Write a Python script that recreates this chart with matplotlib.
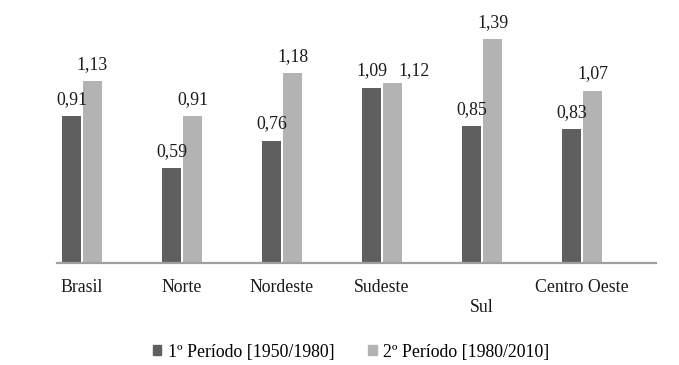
import numpy as np
import matplotlib.pyplot as plt
from matplotlib.patches import Patch
import matplotlib.transforms as mtransforms

plt.rcParams['font.family'] = ['Liberation Serif', 'DejaVu Serif']

regioes = ['Brasil', 'Norte', 'Nordeste', 'Sudeste', 'Sul', 'Centro Oeste']
periodo1 = [0.91, 0.59, 0.76, 1.09, 0.85, 0.83]
periodo2 = [1.13, 0.91, 1.18, 1.12, 1.39, 1.07]
legendas = ['1º Período [1950/1980]', '2º Período [1980/2010]']

cor1 = '#5f5f5f'
cor2 = '#b3b3b3'
fs = 12.8

fig = plt.figure(figsize=(6.79, 3.65), dpi=100)
ax = fig.add_axes([57/679, 1 - 263/365, 599/679, (263 - 21.5)/365])

x = np.arange(len(regioes))
w = 0.19
b1 = ax.bar(x - 0.105, periodo1, w, color=cor1)
b2 = ax.bar(x + 0.105, periodo2, w, color=cor2)

def fmt(v):
    return ('%.2f' % v).replace('.', ',')

px = 72 / 100  # pixels -> pontos
for j, (bars, vals) in enumerate([(b1, periodo1), (b2, periodo2)]):
    for i, (r, v) in enumerate(zip(bars, vals)):
        cx = r.get_x() + r.get_width() / 2
        dx, dy = 0, 6
        # Sudeste: rótulo do 2º período deslocado para não sobrepor
        if j == 1 and regioes[i] == 'Sudeste':
            dx = 22 * px
            dy = 6 - (periodo2[i] - periodo1[i]) * 161 * px
        ax.annotate(fmt(v), (cx, v), xytext=(dx, dy),
                    textcoords='offset points', ha='center', va='bottom',
                    fontsize=fs, color='#1a1a1a')

ax.set_xlim(-0.25, 5.74)
ax.set_ylim(0, 1.5)
ax.set_xticks([])
ax.set_yticks([])
for s in ['top', 'right', 'left']:
    ax.spines[s].set_visible(False)
ax.spines['bottom'].set_color('#a0a0a0')
ax.spines['bottom'].set_linewidth(1.6)

# rótulos das categorias (Sul fica mais abaixo no original)
for i, nome in enumerate(regioes):
    dy = -44 if nome == 'Sul' else -24
    tr = mtransforms.offset_copy(ax.transData, fig=fig, x=0, y=dy * px, units='points')
    ax.text(i, 0, nome, transform=tr, ha='center', va='center', fontsize=fs, color='#1a1a1a')

handles = [Patch(color=cor1), Patch(color=cor2)]
fig.legend(handles, legendas, loc='center', bbox_to_anchor=(351/679, 1 - 352/365),
           ncol=2, frameon=False, fontsize=fs, handlelength=0.5, handleheight=0.5,
           handletextpad=0.35, columnspacing=1.9)

fig.savefig('out.png', dpi=100)
